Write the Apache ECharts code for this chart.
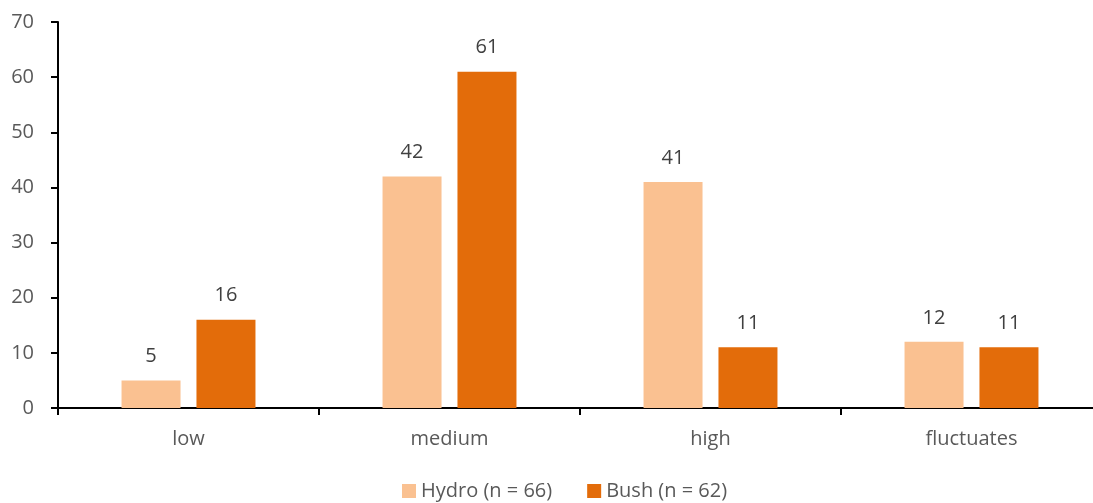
<!DOCTYPE html>
<html><head><meta charset="utf-8">
<script src="https://cdn.jsdelivr.net/npm/echarts@6/dist/echarts.min.js"></script>
<style>html,body{margin:0;padding:0;background:#fff}#c{width:1093px;height:503px}</style>
</head><body><div id="c"></div>
<script>
const categories = ['low', 'medium', 'high', 'fluctuates'];
const hydro = [5, 42, 41, 12];
const bush = [16, 61, 11, 11];
const seriesNames = ['Hydro (n = 66)', 'Bush (n = 62)'];
const yTicks = [0, 70, 10];

const font = 'Open Sans';
const fs = 20;
const chart = echarts.init(document.getElementById('c'), null, {renderer: 'canvas'});
const lbl = {show: true, position: 'top', distance: 14, color: '#404040', fontSize: fs, fontFamily: font};
chart.setOption({
  animation: false,
  grid: {left: 58, top: 22, bottom: 95, width: 1044, outerBoundsMode: 'none', containLabel: false},
  legend: {
    top: 481, left: 402, padding: 0, itemWidth: 14, itemHeight: 14, itemGap: 35,
    icon: 'rect',
    textStyle: {color: '#595959', fontSize: fs, fontFamily: font},
    data: seriesNames
  },
  xAxis: {
    type: 'category', data: categories,
    axisLine: {lineStyle: {color: '#000', width: 2}},
    axisTick: {show: true, length: 7, lineStyle: {color: '#000', width: 2}},
    axisLabel: {color: '#595959', fontSize: fs, fontFamily: font, margin: 21}
  },
  yAxis: {
    type: 'value', min: yTicks[0], max: yTicks[1], interval: yTicks[2],
    splitLine: {show: false},
    axisLine: {show: true, lineStyle: {color: '#000', width: 2}},
    axisTick: {show: true, length: 7, lineStyle: {color: '#000', width: 2}},
    axisLabel: {color: '#595959', fontSize: fs, fontFamily: font, margin: 24}
  },
  series: [
    {name: seriesNames[0], type: 'bar', data: hydro, barWidth: 59, barGap: '27%',
     itemStyle: {color: '#FAC191'}, label: lbl},
    {name: seriesNames[1], type: 'bar', data: bush, barWidth: 59,
     itemStyle: {color: '#E36C0A'}, label: lbl}
  ]
});
</script></body></html>
